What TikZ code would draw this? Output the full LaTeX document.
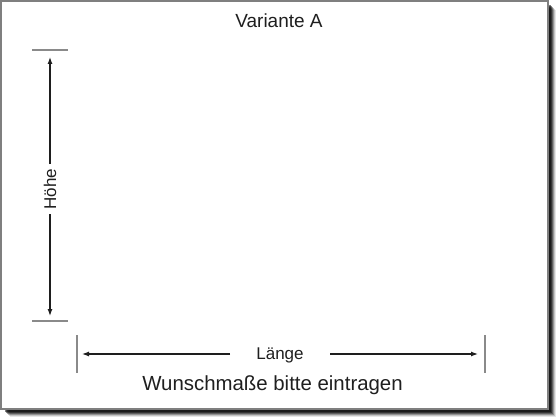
\documentclass[tikz,border=0pt]{standalone}
\usepackage{fontspec}
\setmainfont{Liberation Sans}
\usetikzlibrary{arrows.meta}
\definecolor{framegray}{HTML}{7F7F7F}
\definecolor{tickgray}{HTML}{8A8A8A}
\definecolor{arrowdark}{HTML}{1E1E1E}
\tikzset{
  titletext/.style={inner sep=0pt, font=\fontsize{19}{23}\selectfont, text=black!88},
  hinttext/.style={inner sep=0pt, font=\fontsize{20.4}{24}\selectfont, text=black!88},
  smalltext/.style={inner sep=0pt, font=\fontsize{17}{20}\selectfont, text=black!88},
  tickline/.style={draw=tickgray, line width=1.3pt},
  dimarrow/.style={draw=arrowdark, line width=1.2pt, -{Latex[length=7pt,width=5pt]}},
}
\begin{document}
\begin{tikzpicture}[x=1pt,y=-1pt]
\useasboundingbox (0,0) rectangle (560,420);
% shadow
\foreach \o/\op in {8/0.10,7/0.15,6/0.25,5/0.35,4/0.45,3/0.5}{
  \fill[black,opacity=\op] (8,8) ++(\o-6,\o-6) rectangle (548+\o,409+\o);
}
% sheet
\fill[white] (1,1) rectangle (548,409);
\draw[framegray, line width=1.6pt] (1,1) rectangle (548,409);
% texts
\node[titletext] (title) at (279,21) {Variante A};
\node[hinttext] (hint) at (272.5,385.5) {Wunschmaße bitte eintragen};
\node[smalltext] (laenge) at (280,355) {Länge};
\node[smalltext, rotate=90] (hoehe) at (50,189) {Höhe};
% height dimension
\coordinate (htA) at (32,50); \coordinate (htB) at (68,50);
\coordinate (hbA) at (32,321); \coordinate (hbB) at (68,321);
\draw[tickline] (htA) -- (htB);
\draw[tickline] (hbA) -- (hbB);
\coordinate (h1s) at (50,164); \coordinate (h1e) at (50,57);
\coordinate (h2s) at (50,214); \coordinate (h2e) at (50,316);
\draw[dimarrow] (h1s) -- (h1e);
\draw[dimarrow] (h2s) -- (h2e);
% length dimension
\coordinate (ltA) at (77,335); \coordinate (ltB) at (77,373);
\coordinate (rtA) at (485,335); \coordinate (rtB) at (485,373);
\draw[tickline] (ltA) -- (ltB);
\draw[tickline] (rtA) -- (rtB);
\coordinate (l1s) at (230,354); \coordinate (l1e) at (82,354);
\coordinate (l2s) at (330,354); \coordinate (l2e) at (478,354);
\draw[dimarrow] (l1s) -- (l1e);
\draw[dimarrow] (l2s) -- (l2e);
\end{tikzpicture}
\end{document}
